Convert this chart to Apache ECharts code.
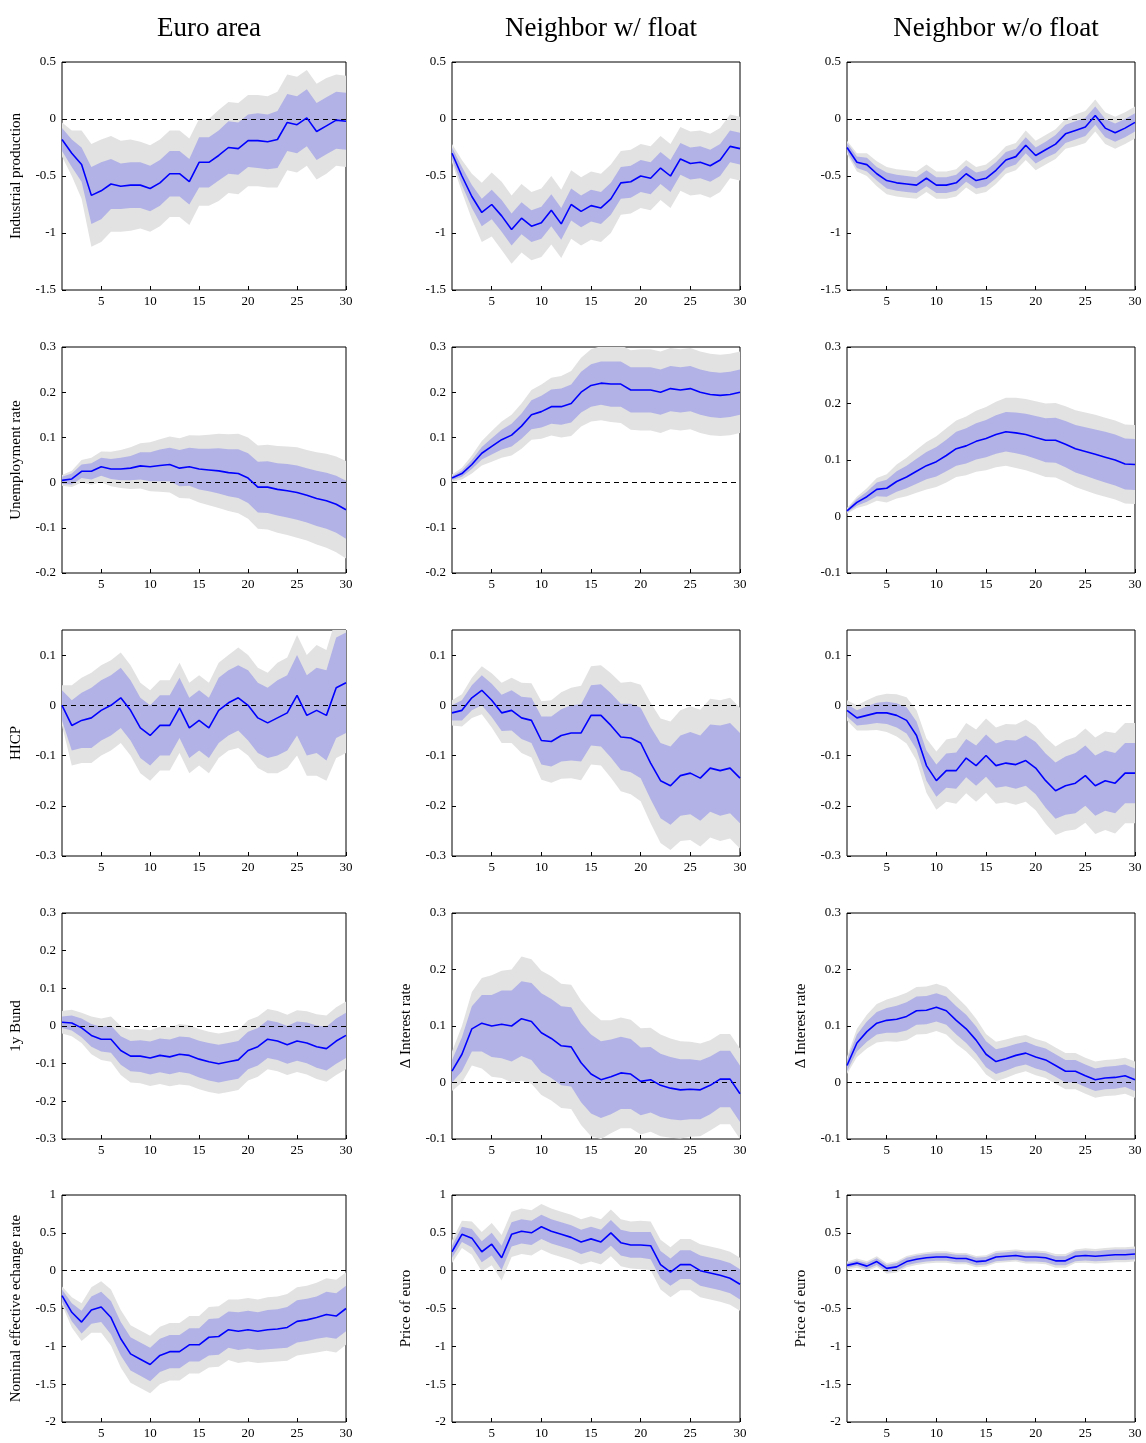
<!DOCTYPE html>
<html><head><meta charset="utf-8">
<script src="https://cdn.jsdelivr.net/npm/echarts@6/dist/echarts.min.js"></script>
<style>html,body{margin:0;padding:0;background:#fff}#c{width:1146px;height:1443px}</style>
</head><body><div id="c"></div>
<script>
// horizons 1..30
var horizons = [];
for (var h = 1; h <= 30; h++) horizons.push(h);
var colTitles = ['Euro area', 'Neighbor w/ float', 'Neighbor w/o float'];

// median responses, inner (68%) and outer (90%) half-widths
var ipEA   = [-0.18,-0.3,-0.4,-0.67,-0.63,-0.57,-0.59,-0.58,-0.58,-0.61,-0.56,-0.48,-0.48,-0.55,-0.38,-0.38,-0.32,-0.25,-0.26,-0.19,-0.19,-0.2,-0.18,-0.03,-0.05,0.01,-0.11,-0.06,-0.01,-0.02];
var ipEAin = [0.1,0.12,0.15,0.25,0.25,0.22,0.2,0.2,0.2,0.2,0.2,0.2,0.2,0.2,0.22,0.22,0.22,0.23,0.23,0.23,0.24,0.24,0.25,0.25,0.25,0.25,0.25,0.25,0.25,0.25];
var ipEAout= [0.15,0.2,0.3,0.45,0.45,0.42,0.4,0.4,0.38,0.38,0.38,0.38,0.38,0.38,0.38,0.38,0.4,0.4,0.4,0.4,0.4,0.4,0.42,0.42,0.42,0.42,0.42,0.42,0.4,0.4];
var ipNF   = [-0.3,-0.5,-0.68,-0.82,-0.75,-0.85,-0.97,-0.87,-0.94,-0.91,-0.8,-0.92,-0.75,-0.81,-0.76,-0.78,-0.7,-0.56,-0.55,-0.5,-0.52,-0.43,-0.5,-0.35,-0.39,-0.38,-0.41,-0.36,-0.24,-0.26];
var ipNFin = [0.05,0.08,0.1,0.12,0.13,0.14,0.14,0.14,0.14,0.14,0.14,0.14,0.14,0.14,0.14,0.14,0.14,0.14,0.14,0.14,0.14,0.14,0.14,0.14,0.14,0.14,0.14,0.14,0.14,0.14];
var ipNFout= [0.08,0.14,0.2,0.26,0.28,0.3,0.3,0.3,0.3,0.3,0.3,0.3,0.3,0.3,0.3,0.3,0.3,0.28,0.28,0.28,0.28,0.28,0.28,0.28,0.28,0.28,0.28,0.28,0.28,0.28];
var ipNW   = [-0.25,-0.38,-0.4,-0.48,-0.54,-0.56,-0.57,-0.58,-0.52,-0.58,-0.58,-0.56,-0.48,-0.54,-0.52,-0.45,-0.36,-0.33,-0.23,-0.32,-0.27,-0.22,-0.13,-0.1,-0.07,0.03,-0.08,-0.12,-0.08,-0.03];
var ipNWin = [0.04,0.05,0.06,0.06,0.07,0.07,0.07,0.07,0.07,0.07,0.07,0.07,0.07,0.07,0.07,0.07,0.07,0.07,0.07,0.07,0.07,0.08,0.08,0.08,0.08,0.08,0.08,0.08,0.08,0.08];
var ipNWout= [0.06,0.08,0.1,0.11,0.12,0.12,0.12,0.12,0.12,0.12,0.12,0.12,0.12,0.12,0.12,0.12,0.12,0.12,0.13,0.13,0.13,0.13,0.13,0.14,0.14,0.14,0.14,0.14,0.14,0.14];

var urEA   = [0.005,0.008,0.025,0.025,0.035,0.03,0.03,0.032,0.037,0.035,0.038,0.04,0.032,0.035,0.03,0.028,0.026,0.022,0.02,0.01,-0.01,-0.01,-0.015,-0.018,-0.022,-0.028,-0.035,-0.04,-0.048,-0.06];
var urEAin = [0.008,0.012,0.015,0.018,0.02,0.022,0.025,0.027,0.03,0.032,0.035,0.037,0.04,0.042,0.045,0.047,0.05,0.052,0.054,0.055,0.056,0.057,0.058,0.059,0.06,0.06,0.061,0.062,0.063,0.064];
var urEAout= [0.012,0.018,0.025,0.03,0.034,0.038,0.042,0.046,0.05,0.054,0.058,0.062,0.066,0.07,0.074,0.078,0.082,0.085,0.088,0.09,0.092,0.094,0.096,0.098,0.1,0.1,0.102,0.104,0.106,0.108];
var urNF   = [0.01,0.02,0.04,0.065,0.08,0.095,0.105,0.125,0.15,0.157,0.168,0.168,0.175,0.2,0.215,0.22,0.218,0.218,0.205,0.205,0.205,0.2,0.208,0.205,0.208,0.2,0.195,0.193,0.195,0.2];
var urNFin = [0.004,0.007,0.01,0.014,0.018,0.022,0.025,0.028,0.032,0.035,0.038,0.04,0.042,0.045,0.047,0.048,0.05,0.05,0.05,0.05,0.05,0.05,0.05,0.05,0.05,0.05,0.05,0.05,0.05,0.05];
var urNFout= [0.008,0.013,0.02,0.027,0.034,0.04,0.045,0.05,0.055,0.06,0.064,0.068,0.072,0.076,0.08,0.082,0.084,0.086,0.088,0.09,0.09,0.09,0.09,0.09,0.09,0.09,0.09,0.09,0.09,0.09];
var urNW   = [0.01,0.025,0.035,0.048,0.05,0.062,0.07,0.08,0.09,0.097,0.108,0.12,0.125,0.133,0.138,0.145,0.15,0.148,0.145,0.14,0.135,0.135,0.128,0.12,0.115,0.11,0.105,0.1,0.093,0.092];
var urNWin = [0.003,0.006,0.009,0.012,0.015,0.018,0.02,0.022,0.024,0.026,0.028,0.03,0.031,0.032,0.033,0.034,0.035,0.036,0.037,0.038,0.039,0.04,0.041,0.042,0.043,0.044,0.045,0.045,0.045,0.045];
var urNWout= [0.005,0.01,0.015,0.02,0.025,0.03,0.034,0.038,0.042,0.045,0.048,0.05,0.052,0.054,0.056,0.058,0.06,0.062,0.063,0.064,0.065,0.066,0.067,0.068,0.069,0.07,0.07,0.07,0.07,0.07];

var hiEA   = [0,-0.04,-0.03,-0.025,-0.01,0,0.015,-0.01,-0.045,-0.06,-0.04,-0.04,-0.005,-0.045,-0.03,-0.045,-0.01,0.005,0.015,0,-0.025,-0.035,-0.025,-0.015,0.02,-0.02,-0.01,-0.02,0.035,0.045];
var hiEAin = [0.03,0.05,0.055,0.06,0.06,0.06,0.06,0.06,0.06,0.06,0.06,0.06,0.06,0.06,0.06,0.06,0.065,0.065,0.065,0.07,0.07,0.07,0.075,0.075,0.08,0.08,0.085,0.09,0.1,0.1];
var hiEAout= [0.04,0.08,0.085,0.09,0.09,0.09,0.09,0.09,0.09,0.09,0.09,0.09,0.09,0.09,0.09,0.09,0.095,0.095,0.1,0.1,0.1,0.1,0.11,0.11,0.12,0.12,0.13,0.13,0.14,0.14];
var hiNF   = [-0.015,-0.01,0.015,0.03,0.01,-0.015,-0.01,-0.025,-0.03,-0.07,-0.072,-0.06,-0.055,-0.055,-0.02,-0.02,-0.04,-0.063,-0.065,-0.075,-0.115,-0.15,-0.16,-0.14,-0.135,-0.145,-0.125,-0.13,-0.125,-0.145];
var hiNFin = [0.015,0.02,0.025,0.03,0.033,0.036,0.04,0.042,0.045,0.048,0.05,0.052,0.055,0.057,0.06,0.062,0.064,0.066,0.068,0.07,0.072,0.075,0.078,0.08,0.082,0.085,0.087,0.09,0.09,0.09];
var hiNFout= [0.025,0.032,0.04,0.048,0.054,0.06,0.065,0.07,0.074,0.078,0.082,0.086,0.09,0.094,0.098,0.1,0.104,0.108,0.112,0.116,0.12,0.124,0.128,0.13,0.133,0.136,0.138,0.14,0.14,0.14];
var hiNW   = [-0.01,-0.025,-0.02,-0.015,-0.015,-0.02,-0.03,-0.06,-0.12,-0.15,-0.13,-0.13,-0.105,-0.12,-0.1,-0.12,-0.115,-0.118,-0.11,-0.125,-0.15,-0.17,-0.16,-0.155,-0.14,-0.16,-0.15,-0.155,-0.135,-0.135];
var hiNWin = [0.012,0.015,0.018,0.02,0.022,0.024,0.026,0.028,0.03,0.032,0.034,0.036,0.038,0.04,0.042,0.044,0.046,0.048,0.05,0.052,0.054,0.056,0.058,0.06,0.06,0.06,0.06,0.06,0.06,0.06];
var hiNWout= [0.02,0.025,0.03,0.034,0.038,0.042,0.046,0.05,0.054,0.058,0.062,0.066,0.07,0.072,0.074,0.076,0.078,0.08,0.082,0.084,0.086,0.088,0.09,0.092,0.094,0.096,0.098,0.1,0.1,0.1];

var bdEA   = [0.01,0.008,-0.005,-0.025,-0.035,-0.035,-0.065,-0.08,-0.08,-0.085,-0.078,-0.082,-0.075,-0.078,-0.088,-0.095,-0.1,-0.095,-0.09,-0.065,-0.055,-0.035,-0.04,-0.05,-0.04,-0.045,-0.055,-0.06,-0.04,-0.025];
var bdEAin = [0.015,0.02,0.025,0.03,0.033,0.036,0.038,0.04,0.042,0.044,0.045,0.046,0.047,0.048,0.049,0.05,0.05,0.05,0.05,0.05,0.05,0.05,0.05,0.05,0.052,0.054,0.056,0.058,0.06,0.06];
var bdEAout= [0.03,0.035,0.04,0.05,0.055,0.06,0.065,0.07,0.072,0.074,0.076,0.078,0.08,0.08,0.08,0.08,0.08,0.08,0.08,0.08,0.08,0.08,0.08,0.08,0.082,0.084,0.086,0.088,0.09,0.09];
var irNF   = [0.02,0.05,0.095,0.105,0.1,0.103,0.1,0.113,0.108,0.088,0.078,0.065,0.063,0.035,0.015,0.005,0.01,0.017,0.015,0.002,0.005,-0.005,-0.01,-0.013,-0.012,-0.013,-0.005,0.006,0.006,-0.02];
var irNFin = [0.02,0.03,0.04,0.05,0.055,0.06,0.063,0.066,0.068,0.07,0.07,0.07,0.07,0.07,0.07,0.068,0.066,0.064,0.062,0.06,0.058,0.056,0.055,0.054,0.053,0.052,0.051,0.05,0.05,0.05];
var irNFout= [0.035,0.05,0.065,0.08,0.09,0.095,0.1,0.11,0.11,0.11,0.11,0.11,0.11,0.11,0.11,0.105,0.1,0.098,0.096,0.094,0.092,0.09,0.088,0.086,0.084,0.082,0.08,0.08,0.08,0.08];
var irNW   = [0.03,0.07,0.09,0.105,0.11,0.112,0.117,0.127,0.128,0.133,0.127,0.11,0.095,0.075,0.05,0.037,0.042,0.048,0.052,0.045,0.04,0.03,0.02,0.02,0.012,0.005,0.008,0.009,0.012,0.005];
var irNWin = [0.01,0.015,0.018,0.02,0.022,0.024,0.025,0.025,0.025,0.025,0.025,0.025,0.025,0.024,0.023,0.022,0.021,0.02,0.02,0.02,0.02,0.02,0.02,0.02,0.02,0.02,0.02,0.02,0.02,0.02];
var irNWout= [0.015,0.025,0.03,0.034,0.037,0.04,0.042,0.042,0.042,0.042,0.042,0.042,0.04,0.038,0.036,0.035,0.034,0.033,0.032,0.032,0.032,0.032,0.032,0.032,0.032,0.032,0.032,0.032,0.032,0.032];

var fxEA   = [-0.33,-0.55,-0.68,-0.52,-0.48,-0.62,-0.9,-1.1,-1.17,-1.24,-1.12,-1.07,-1.07,-0.98,-0.98,-0.88,-0.87,-0.78,-0.8,-0.78,-0.8,-0.78,-0.77,-0.75,-0.67,-0.65,-0.62,-0.58,-0.6,-0.5];
var fxEAin = [0.08,0.12,0.15,0.18,0.2,0.22,0.22,0.22,0.22,0.22,0.22,0.22,0.22,0.22,0.22,0.24,0.24,0.24,0.25,0.25,0.25,0.26,0.26,0.27,0.28,0.28,0.28,0.3,0.3,0.3];
var fxEAout= [0.12,0.2,0.25,0.3,0.34,0.37,0.38,0.38,0.38,0.38,0.38,0.38,0.38,0.38,0.38,0.4,0.4,0.4,0.42,0.42,0.42,0.43,0.43,0.44,0.45,0.45,0.46,0.48,0.48,0.48];
var fxNF   = [0.25,0.48,0.43,0.25,0.35,0.17,0.48,0.52,0.5,0.58,0.52,0.48,0.44,0.38,0.42,0.38,0.5,0.37,0.34,0.34,0.33,0.08,-0.02,0.08,0.08,0.0,-0.03,-0.06,-0.1,-0.18];
var fxNFin = [0.08,0.1,0.12,0.14,0.15,0.16,0.16,0.16,0.16,0.16,0.16,0.16,0.16,0.16,0.16,0.16,0.17,0.17,0.17,0.17,0.18,0.18,0.18,0.19,0.19,0.2,0.2,0.2,0.2,0.2];
var fxNFout= [0.15,0.18,0.22,0.26,0.28,0.3,0.3,0.3,0.3,0.3,0.3,0.3,0.3,0.3,0.3,0.3,0.31,0.31,0.31,0.32,0.32,0.33,0.33,0.34,0.34,0.35,0.35,0.35,0.35,0.35];
var fxNW   = [0.07,0.1,0.06,0.12,0.03,0.05,0.12,0.15,0.17,0.18,0.18,0.16,0.16,0.12,0.13,0.18,0.19,0.2,0.18,0.18,0.17,0.13,0.13,0.19,0.2,0.19,0.2,0.21,0.21,0.22];
var fxNWin = [0.03,0.035,0.04,0.045,0.045,0.05,0.05,0.05,0.05,0.05,0.05,0.05,0.05,0.05,0.05,0.055,0.055,0.055,0.06,0.06,0.06,0.06,0.06,0.065,0.065,0.065,0.07,0.07,0.07,0.07];
var fxNWout= [0.05,0.06,0.065,0.07,0.07,0.075,0.075,0.075,0.075,0.075,0.075,0.075,0.075,0.075,0.075,0.08,0.08,0.08,0.085,0.085,0.085,0.09,0.09,0.09,0.095,0.095,0.1,0.1,0.1,0.1];

var panels = [
  [ipEA, ipEAin, ipEAout, 'Industrial production', -1.5, 0.5, 0.5],
  [ipNF, ipNFin, ipNFout, '', -1.5, 0.5, 0.5],
  [ipNW, ipNWin, ipNWout, '', -1.5, 0.5, 0.5],
  [urEA, urEAin, urEAout, 'Unemployment rate', -0.2, 0.3, 0.1],
  [urNF, urNFin, urNFout, '', -0.2, 0.3, 0.1],
  [urNW, urNWin, urNWout, '', -0.1, 0.3, 0.1],
  [hiEA, hiEAin, hiEAout, 'HICP', -0.3, 0.15, 0.1],
  [hiNF, hiNFin, hiNFout, '', -0.3, 0.15, 0.1],
  [hiNW, hiNWin, hiNWout, '', -0.3, 0.15, 0.1],
  [bdEA, bdEAin, bdEAout, '1y Bund', -0.3, 0.3, 0.1],
  [irNF, irNFin, irNFout, 'Δ Interest rate', -0.1, 0.3, 0.1],
  [irNW, irNWin, irNWout, 'Δ Interest rate', -0.1, 0.3, 0.1],
  [fxEA, fxEAin, fxEAout, 'Nominal effective echange rate', -2, 1, 0.5],
  [fxNF, fxNFin, fxNFout, 'Price of euro', -2, 1, 0.5],
  [fxNW, fxNWin, fxNWout, 'Price of euro', -2, 1, 0.5]
];

var lefts = [62, 452, 847], widths = [284, 288, 288];
var tops = [62, 347, 630, 913, 1195], heights = [228, 226, 226, 226, 227];
var FONT = 'Liberation Serif';
var xTicks = [5, 10, 15, 20, 25, 30];

function pairs(arr) { return arr.map(function (v, i) { return [horizons[i], v]; }); }

// band polygon drawn through the axes' coordinate system
function bandSeries(i, med, w, color) {
  var data = med.map(function (v, k) { return [horizons[k], v - w[k], v + w[k]]; });
  return {
    type: 'custom', xAxisIndex: i, yAxisIndex: i, silent: true, data: data,
    encode: { x: 0, y: [1, 2] }, clip: true,
    renderItem: function (params, api) {
      if (params.dataIndex !== 0) return;
      var pts = [];
      data.forEach(function (d) { pts.push(api.coord([d[0], d[2]])); });
      for (var k = data.length - 1; k >= 0; k--) pts.push(api.coord([data[k][0], data[k][1]]));
      var cs = params.coordSys;
      return { type: 'polygon', shape: { points: pts }, style: { fill: color },
        clipPath: { type: 'rect', shape: { x: cs.x, y: cs.y, width: cs.width, height: cs.height } } };
    }
  };
}

var grids = [], xAxes = [], yAxes = [], series = [], titles = [];
colTitles.forEach(function (t, c) {
  titles.push({ text: t, left: lefts[c] + widths[c] / 2, top: 10, textAlign: 'center',
    textStyle: { fontFamily: FONT, fontSize: 27, fontWeight: 'normal', color: '#000' } });
});

panels.forEach(function (p, i) {
  var r = Math.floor(i / 3), c = i % 3;
  var med = p[0], wi = p[1], wo = p[2];
  grids.push({ left: lefts[c], top: tops[r], width: widths[c], height: heights[r],
    show: true, borderColor: '#000', borderWidth: 1, backgroundColor: '#fff' });
  xAxes.push({ type: 'value', gridIndex: i, min: 1, max: 30,
    axisLine: { show: false, onZero: false }, splitLine: { show: false },
    axisTick: { inside: true, length: 4, customValues: xTicks, lineStyle: { color: '#000' } },
    axisLabel: { customValues: xTicks, fontFamily: FONT, fontSize: 13, color: '#000', margin: 5 } });
  yAxes.push({ type: 'value', gridIndex: i, min: p[4], max: p[5], interval: p[6],
    name: p[3], nameLocation: 'middle', nameRotate: 90, nameGap: 38,
    nameTextStyle: { fontFamily: FONT, fontSize: 15, color: '#000' },
    axisLine: { show: false, onZero: false }, splitLine: { show: false },
    axisTick: { inside: true, length: 4, lineStyle: { color: '#000' } },
    axisLabel: { fontFamily: FONT, fontSize: 13, color: '#000', margin: 6, showMaxLabel: p[5] * 100 % (p[6] * 100) === 0,
      formatter: function (v) { return Math.round(v * 100) / 100 + ''; } } });
  series.push(bandSeries(i, med, wo, '#e2e2e2'));
  series.push(bandSeries(i, med, wi, '#b2b2e6'));
  series.push({ type: 'line', xAxisIndex: i, yAxisIndex: i, symbol: 'none', silent: true,
    data: pairs(med), lineStyle: { color: '#0000ff', width: 1.6 }, z: 5,
    markLine: { silent: true, symbol: 'none', label: { show: false },
      lineStyle: { color: '#000', type: [5, 4], width: 1 }, data: [{ yAxis: 0 }] } });
});

var chart = echarts.init(document.getElementById('c'));
chart.setOption({ animation: false, backgroundColor: '#fff', title: titles,
  grid: grids, xAxis: xAxes, yAxis: yAxes, series: series });
</script>
</body></html>
